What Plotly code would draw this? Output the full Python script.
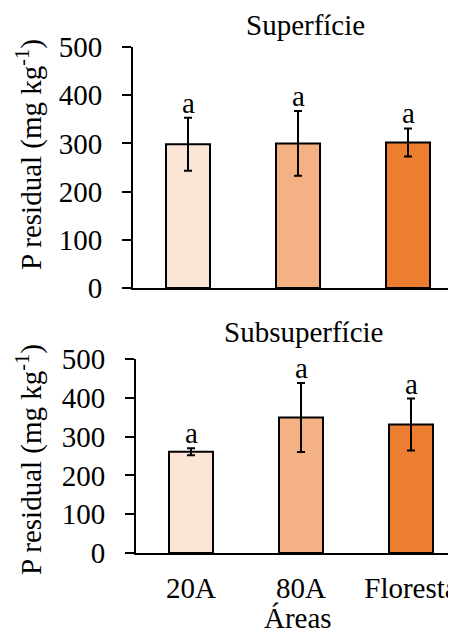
import plotly.graph_objects as go

categories = ["20A", "80A", "Floresta"]
sup_values = [298, 300, 302]
sup_errors = [55, 67, 29]
sub_values = [261, 349, 331]
sub_errors = [9, 89, 67]
letters_sup = ["a", "a", "a"]
letters_sub = ["a", "a", "a"]
colors = ["#FBE5D6", "#F4B183", "#ED7D31"]
yticks = [0, 100, 200, 300, 400, 500]
ytitle_text = "P residual (mg kg<sup>-1</sup>)"

# page body has an 8px margin: the figure is drawn at (8, 8) in a 456x630 window
OFF = 8
W, H = 456 - OFF, 630 - OFF
FONT = "Liberation Serif"
FS = 29
TF = dict(family=FONT, size=FS, color="black")

def px(x):
    return (x - OFF) / W

def py(y):
    return (H - (y - OFF)) / H

fig = go.Figure()

for vals, errs, xa, ya in [(sup_values, sup_errors, "x", "y"), (sub_values, sub_errors, "x2", "y2")]:
    fig.add_trace(go.Bar(
        x=categories, y=vals, xaxis=xa, yaxis=ya, width=0.4,
        marker=dict(color=colors, line=dict(color="black", width=2)),
        error_y=dict(type="data", array=errs, visible=True, color="black", thickness=2, width=4),
        showlegend=False,
    ))

annotations = []
for i, c in enumerate(categories):
    annotations.append(dict(x=c, y=sup_values[i] + sup_errors[i], xref="x", yref="y", text=letters_sup[i],
                            showarrow=False, xanchor="center", yanchor="bottom", yshift=-3, font=TF))
    annotations.append(dict(x=c, y=sub_values[i] + sub_errors[i], xref="x2", yref="y2", text=letters_sub[i],
                            showarrow=False, xanchor="center", yanchor="bottom", yshift=-3, font=TF))

annotations += [
    dict(x=px(305), y=py(25), xref="paper", yref="paper", text="Superfície", showarrow=False,
         xanchor="center", yanchor="middle", font=TF),
    dict(x=px(303), y=py(332), xref="paper", yref="paper", text="Subsuperfície", showarrow=False,
         xanchor="center", yanchor="middle", font=TF),
    dict(x=px(298), y=py(618), xref="paper", yref="paper", text="Áreas", showarrow=False,
         xanchor="center", yanchor="middle", font=TF),
    dict(x=px(30), y=py(155), xref="paper", yref="paper", text=ytitle_text, textangle=-90, showarrow=False,
         xanchor="center", yanchor="middle", font=TF),
    dict(x=px(29), y=py(460), xref="paper", yref="paper", text=ytitle_text, textangle=-90, showarrow=False,
         xanchor="center", yanchor="middle", font=TF),
]

axis_common = dict(showline=True, linecolor="black", linewidth=2, showgrid=False, zeroline=False,
                   automargin=False, tickfont=TF)

fig.update_layout(
    template="none",
    width=W, height=H, margin=dict(l=0, r=0, t=0, b=0, autoexpand=False),
    paper_bgcolor="white", plot_bgcolor="white",
    font=dict(family=FONT, size=FS, color="black"),
    xaxis=dict(domain=[px(133), 1], range=[-0.5, -0.5 + 323 / 110], showticklabels=False, ticks="",
               anchor="y", **axis_common),
    yaxis=dict(domain=[py(288), py(47)], range=[0, 500], tickvals=yticks, ticks="outside", ticklen=9,
               tickwidth=2, tickcolor="black", ticklabelstandoff=14, anchor="x", **axis_common),
    xaxis2=dict(domain=[px(136), 1], range=[-0.5, -0.5 + 320 / 110], ticks="", ticklabelstandoff=8,
                anchor="y2", **axis_common),
    yaxis2=dict(domain=[py(553), py(359)], range=[0, 500], tickvals=yticks, ticks="outside", ticklen=9,
                tickwidth=2, tickcolor="black", ticklabelstandoff=14, anchor="x2", **axis_common),
    annotations=annotations,
)

fig.write_html("out.html")
